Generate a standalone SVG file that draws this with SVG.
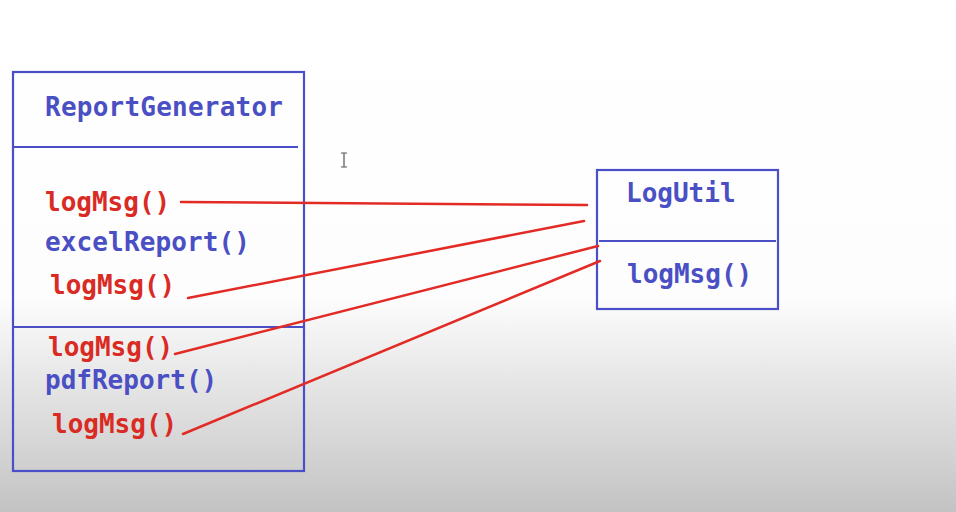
<svg xmlns="http://www.w3.org/2000/svg" width="956" height="512" viewBox="0 0 956 512">
<defs>
<linearGradient id="bg" x1="0" y1="0" x2="0" y2="512" gradientUnits="userSpaceOnUse">
<stop offset="0" stop-color="#ffffff"/>
<stop offset="0.58" stop-color="#fdfdfd"/>
<stop offset="0.7" stop-color="#ececec"/>
<stop offset="0.85" stop-color="#d8d8d8"/>
<stop offset="1" stop-color="#c3c3c3"/>
</linearGradient>
<style>
.box{fill:none;stroke:#4a4fc8;stroke-width:2.2}
.div{stroke:#4a4fc8;stroke-width:2.2}
.t{font-family:"DejaVu Sans Mono","Liberation Mono",monospace;font-weight:bold;font-size:26px}
.b{fill:#4a4fc4}
.r{fill:#da2a24}
.c{stroke:#e32b26;stroke-width:2.5;fill:none;stroke-linecap:round}
</style>
</defs>
<rect x="0" y="0" width="956" height="512" fill="url(#bg)"/>
<path d="M341 153h6M344 153v14M341 167h6" stroke="#555" stroke-width="1.2" fill="none"/>
<g id="ReportGenerator">
<rect class="box" x="13" y="72" width="291" height="399"/>
<line class="div" x1="13" y1="147" x2="298" y2="147"/>
<line class="div" x1="13" y1="327" x2="304" y2="327"/>
<text class="t b" x="45" y="116" textLength="238">ReportGenerator</text>
<text class="t r" x="45" y="211">logMsg()</text>
<text class="t b" x="45" y="251" textLength="205">excelReport()</text>
<text class="t r" x="50" y="294">logMsg()</text>
<text class="t r" x="48" y="356">logMsg()</text>
<text class="t b" x="45" y="389">pdfReport()</text>
<text class="t r" x="52" y="433">logMsg()</text>
</g>
<g id="LogUtil">
<rect class="box" x="597" y="170" width="181" height="139"/>
<line class="div" x1="599" y1="241" x2="776" y2="241"/>
<text class="t b" x="626" y="202">LogUtil</text>
<text class="t b" x="627" y="283">logMsg()</text>
</g>
<g id="connectors">
<line class="c" x1="181" y1="202" x2="587" y2="205"/>
<line class="c" x1="188" y1="298" x2="584" y2="221"/>
<line class="c" x1="175" y1="354" x2="598" y2="246"/>
<line class="c" x1="183" y1="434" x2="600" y2="261"/>
</g>
</svg>
